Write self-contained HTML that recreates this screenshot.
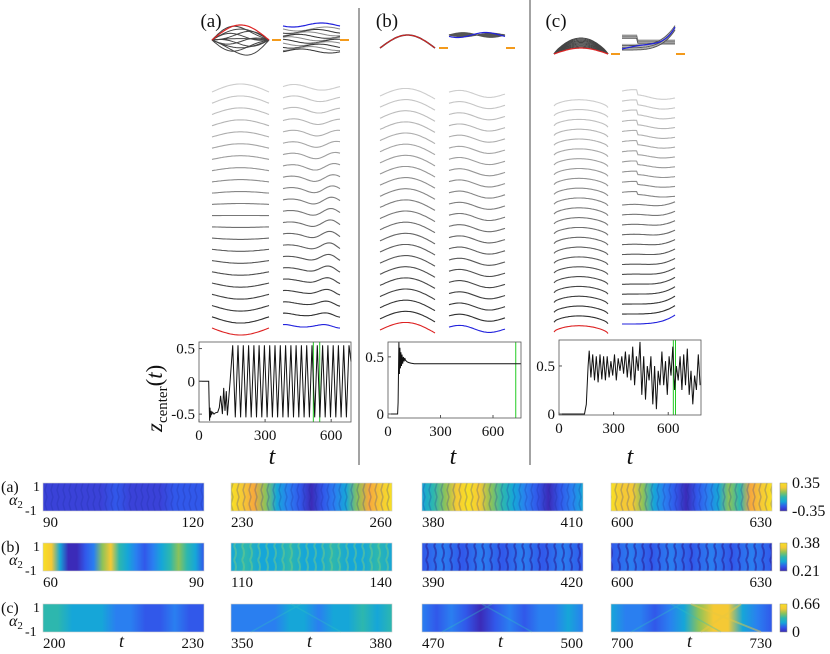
<!DOCTYPE html>
<html><head><meta charset="utf-8">
<style>
html,body{margin:0;padding:0;background:#fff;}
svg{display:block;font-family:"Liberation Serif",serif;}
</style></head>
<body>
<svg id="fig" width="830" height="654" viewBox="0 0 830 654" xmlns="http://www.w3.org/2000/svg">
<defs>
<pattern id="stripeA" width="6" height="28" patternUnits="userSpaceOnUse">
<path d="M3 0 L5 7 L3 14 L5 21 L3 28" stroke="#1a2a9a" stroke-opacity="0.25" stroke-width="1.5" fill="none"/>
</pattern>
<pattern id="stripeB" width="8" height="14" patternUnits="userSpaceOnUse">
<path d="M2 0 Q6 7 2 14" stroke="#2a1f9a" stroke-opacity="0.6" stroke-width="2" fill="none"/>
</pattern>
<pattern id="stripeBg" width="8" height="14" patternUnits="userSpaceOnUse">
<path d="M2 0 Q6 7 2 14" stroke="#7fd07a" stroke-opacity="0.45" stroke-width="2" fill="none"/>
</pattern>
</defs>
<g id="root"></g>
</svg>
<script>
// ---------- z_center time series data ----------
const tA=[0,44,46,48,50,52,55,58,62,68,75,85,92,98,102,106,112,118,124,129,141,153,165,177,189,201,213,225,237,249,261,273,285,297,309,321,333,345,357,369,381,393,405,417,429,441,453,465,477,489,501,513,525,537,549,561,573,585,597,609,621,633,645,657,669,681,690];
const zA=[0,0,-0.3,-0.6,-0.4,-0.55,-0.45,-0.5,-0.47,-0.5,-0.48,-0.47,-0.4,-0.22,-0.35,-0.5,-0.1,-0.45,-0.15,-0.52,0,0.55,-0.55,0.55,-0.55,0.55,-0.55,0.55,-0.55,0.55,-0.55,0.55,-0.55,0.55,-0.55,0.55,-0.55,0.55,-0.55,0.55,-0.55,0.55,-0.55,0.55,-0.55,0.55,-0.55,0.55,-0.55,0.55,-0.55,0.55,-0.55,0.55,-0.55,0.55,-0.55,0.55,-0.55,0.55,-0.55,0.55,-0.55,0.55,-0.55,0.55,0.3];
const tB=[0,55,58,62,65,68,71,74,77,80,84,88,92,96,100,110,120,130,150,760];
const zB=[0,0,0.1,0.63,0.35,0.58,0.4,0.54,0.42,0.52,0.44,0.5,0.46,0.49,0.47,0.455,0.45,0.445,0.44,0.44];
const tC=[0,140,150,160,166,175,185,195,205,215,225,235,245,255,265,275,285,295,305,315,325,335,345,355,365,375,385,395,405,415,425,435,445,455,465,475,485,495,505,515,525,535,545,555,565,575,585,595,605,615,625,635,645,655,665,675,685,695,705,715,725,735,745,755,765,775];
const zC=[0,0,0.1,0.5,0.66,0.38,0.62,0.35,0.6,0.33,0.62,0.36,0.6,0.35,0.6,0.38,0.55,0.4,0.62,0.35,0.58,0.45,0.6,0.42,0.65,0.38,0.62,0.35,0.7,0.3,0.6,0.45,0.75,0.2,0.6,0.15,0.5,0.35,0.6,0.1,0.5,0.05,0.45,0.3,0.65,0.3,0.55,0.2,0.6,0.4,0.7,0.25,0.5,0.35,0.6,0.25,0.62,0.3,0.68,0.2,0.45,0.1,0.4,0.25,0.62,0.3];
// axis tick labels
const ytA=[0.5,0,-0.5], ytAlab=["0.5","0","-0.5"];
const ytB=[0.5,0], ytBlab=["0.5","0"];
const ytC=[0.5,0], ytClab=["0.5","0"];
const xt=[0,300,600], xtlab=["0","300","600"];
const greenA=[519,548], greenB=[730], greenC=[628,640];
// heatmap tick labels
const hmStart=[[90,230,380,600],[60,110,390,600],[200,350,470,700]];
const hmSpan=30;
const cbLabels=[["0.35","-0.35"],["0.38","0.21"],["0.66","0"]];

const NS="http://www.w3.org/2000/svg";
const root=document.getElementById('root');
function el(tag,attrs,parent){const e=document.createElementNS(NS,tag);for(const k in attrs)e.setAttribute(k,attrs[k]);(parent||root).appendChild(e);return e;}
function txt(x,y,s,size,anchor,parent,italic){const e=el('text',{x:x,y:y,'font-size':size,'text-anchor':anchor||'middle',fill:'#111'},parent);if(italic)e.setAttribute('font-style','italic');e.textContent=s;return e;}

// dividers
let d1=el('line',{x1:359,y1:8,x2:359,y2:465,stroke:'#666','stroke-width':1.2});

let d2=el('line',{x1:530,y1:0,x2:530,y2:465,stroke:'#666','stroke-width':1.2});


// panel labels
let pl=txt(211,27,'(a)',19);
pl=txt(387,27,'(b)',19);
pl=txt(556,27,'(c)',19);

// ---------- profile stacks ----------
function gray(i,n){const v=Math.round(205-(i/(n-1))*165);return `rgb(${v},${v},${v})`;}
function drawStack(name,x0,x1,yTop,yBot,n,shapeFn,lastColor){
  const g=el('g',{});
  
  for(let i=0;i<n;i++){
    const base=yTop+(yBot-yTop)*i/(n-1);
    let d='';
    for(let k=0;k<=40;k++){const s=k/40;const y=base+shapeFn(s,i/(n-1));d+=(k?'L':'M')+(x0+(x1-x0)*s).toFixed(1)+' '+y.toFixed(1);}
    const p=el('path',{d:d,fill:'none',stroke:i==n-1?lastColor:gray(i,n),'stroke-width':1.1},g);
    
    
  }
}
const S=Math.sin,P=Math.PI;
drawStack('stack-a-left',212,269,92,328,22,(s,f)=>-(8-15*f)*S(P*s),'#d22');
drawStack('stack-a-right',283,340,88,326,22,(s,f)=>-3*S(2*P*s*(1+0.8*f)+0.5)-2*(1-f)*S(P*s)*0.5+2*f*Math.sin(P*s*4),'#22d');
drawStack('stack-b-left',380,435,96,330,22,(s,f)=>-9*S(P*s)+3*s,'#d22');
drawStack('stack-b-right',449,505,93,328,22,(s,f)=>-3*S(2*P*s+0.3)+2*s,'#22d');
drawStack('stack-c-left',554,608,106,332,24,(s,f)=>-7*Math.pow(S(P*s),0.6)+1.5*s,'#d22');
drawStack('stack-c-right',622,675,96,324,24,(s,f)=>{
  let y=-3*S(2*P*s)*(1-f)*0.6+2*(1-f)*s;
  if(f<0.45){y+= s<0.28?-5*(1-f):0;}
  else {y-= 9*Math.pow(s,4)*f;}
  return y;},'#22d');

// top overlays
function overlay(name,x0,x1,yc,items,dashX){
  const g=el('g',{});
  items.forEach(it=>{let d='';for(let k=0;k<=40;k++){const s=k/40;d+=(k?'L':'M')+(x0+(x1-x0)*s).toFixed(1)+' '+(yc+it.f(s)).toFixed(1);}
    el('path',{d:d,fill:'none',stroke:it.c,'stroke-width':it.w||1},g);});
  const o=el('line',{x1:dashX,y1:yc+items.dy,x2:dashX+9,y2:yc+items.dy,stroke:'#f39a1c','stroke-width':2},g);
  
}
function mk(arr,dy){arr.dy=dy;return arr;}
let ia=[];for(let i=0;i<10;i++){const a=-14+28*i/9;ia.push({c:'#444',f:s=>a*S(P*s)*(i%2?1:0.9)+3*S(2*P*s)*(i%3-1)});}
ia.push({c:'#d22',w:1.2,f:s=>-15*S(P*s)});
overlay('overlay-a-left',212,269,40,mk(ia,0),272);
let ib=[];for(let i=0;i<10;i++){const o=-11+22*i/9;ib.push({c:i%2?'#333':'#888',f:s=>o+2*S(2*P*s+i)});}
ib.push({c:'#22d',w:1.2,f:s=>-15+2*S(2*P*s+0.5)});
overlay('overlay-a-right',283,340,40,mk(ib,0),340);
overlay('overlay-b-left',380,435,48,mk([{c:'#333',w:1.5,f:s=>-13*S(P*s)},{c:'#d22',w:1,f:s=>-13*S(P*s)}],0),439);
let ib2=[];for(let i=0;i<8;i++){ib2.push({c:'#555',f:s=>-13+(i-4)*0.6*S(2*P*s)});}
ib2.push({c:'#22d',w:1.2,f:s=>-13+2.5*S(2*P*s+0.6)});
overlay('overlay-b-right',449,505,48,mk(ib2,0),506);
let ic=[];for(let i=0;i<10;i++){const a=6+10*i/9;ic.push({c:'#444',f:s=>-a*Math.pow(S(P*s),0.8)});}
ic.push({c:'#d22',w:1.2,f:s=>-6*S(P*s)});
overlay('overlay-c-left',554,608,54,mk(ic,0),611);
let ic2=[];for(let i=0;i<10;i++){const o=-14+10*i/9;ic2.push({c:i%2?'#555':'#aaa',f:s=>o-(i>4?20*Math.pow(s,4):0)+(i<4&&s<0.3?-5:0)});}
ic2.push({c:'#22d',w:1.2,f:s=>-5-4*S(P*s)-22*Math.pow(s,5)});
overlay('overlay-c-right',622,675,54,mk(ic2,0),676);

// ---------- z_center axes ----------
function zPlot(name,ax,ay,aw,ah,xmax,ymin,ymax,T,Z,yt,ytl,greens){
  const g=el('g',{});
  const sx=t=>ax+aw*t/xmax, sy=z=>ay+ah*(ymax-z)/(ymax-ymin);
  greens.forEach(t=>{const l=el('line',{x1:sx(t),y1:ay,x2:sx(t),y2:ay+ah,stroke:'#2c2','stroke-width':1},g);});
  let d='';T.forEach((t,i)=>{d+=(i?'L':'M')+sx(t).toFixed(1)+' '+sy(Z[i]).toFixed(1);});
  const p=el('path',{d:d,fill:'none',stroke:'#111','stroke-width':1},g);
  
  const f=el('rect',{x:ax,y:ay,width:aw,height:ah,fill:'none',stroke:'#555','stroke-width':0.8},g);
  
  yt.forEach((v,i)=>{el('line',{x1:ax,y1:sy(v),x2:ax+3,y2:sy(v),stroke:'#555'},g);
    const tl=txt(ax-4,sy(v)+5,ytl[i],15,'end',g);});
  xt.forEach((v,i)=>{el('line',{x1:sx(v),y1:ay+ah,x2:sx(v),y2:ay+ah-3,stroke:'#555'},g);
    const tl=txt(sx(v),ay+ah+18,xtlab[i],15,'middle',g);});
  return sx;
}
zPlot('zcenter-plot-a',199,342,152,80,690,-0.62,0.6,tA,zA,ytA,ytAlab,greenA);
zPlot('zcenter-plot-b',388,342,133,76,760,-0.035,0.63,tB,zB,ytB,ytBlab,greenB);
zPlot('zcenter-plot-c',559,340,142,75,780,-0.01,0.77,tC,zC,ytC,ytClab,greenC);
let xl=txt(272,464,'t',24,'middle',null,true);
xl=txt(453,464,'t',24,'middle',null,true);
xl=txt(630,464,'t',24,'middle',null,true);
let yl=el('text',{x:0,y:0,'font-size':23,transform:'translate(162,432) rotate(-90)',fill:'#111'});
yl.innerHTML='<tspan font-style="italic">z</tspan><tspan font-size="15" dy="5">center</tspan><tspan dy="-5">(</tspan><tspan font-style="italic">t</tspan><tspan>)</tspan>';


// ---------- heatmaps ----------
const C={D:'#3b2bb8',B:'#3158ea',b:'#2a7ff0',c:'#16a6d8',t:'#2db7ae',g:'#8cc25a',y:'#f5c935',Y:'#f8e024',o:'#f7a83c',I:'#3a42d8'};
const hmStops=[
 ['IIIIIBIIIBBB','YyogcbBDBbcgoyY','ctgyYygtcbBDBbc','YyygcbBDBbcgtoyY'],
 ['YycDDBbgytcbBbctgtcB','ctcctcctcctc','BbBbBbBbB','BbBbBbBbB'],
 ['ttcccbbBBbBB','bbbbccbcctct','bBbBDBbBbbcb','cbbBbcgyycbB']
];
const colX=[43,231,422,611], rowY=[483,543,604], cw=161, ch=28;
const hmG=el('g',{});
for(let r=0;r<3;r++){
  for(let c=0;c<4;c++){
    const id='hg'+r+'_'+c;
    const lg=el('linearGradient',{id:id,x1:0,y1:0,x2:1,y2:0},document.querySelector('defs'));
    const st=hmStops[r][c];for(let k=0;k<st.length;k++){el('stop',{offset:k/(st.length-1),'stop-color':C[st[k]]},lg);}
    const rc=el('rect',{x:colX[c],y:rowY[r],width:cw,height:ch,fill:`url(#${id})`},hmG);
    
    if(r==0||(r==1&&c>0)){el('rect',{x:colX[c],y:rowY[r],width:cw,height:ch,fill:r==0?'url(#stripeA)':(c==1?'url(#stripeBg)':'url(#stripeB)')},hmG);}
    if(r==2&&c==3){el('path',{d:`M${colX[c]+90} ${rowY[r]+28} L${colX[c]+130} ${rowY[r]} M${colX[c]+80} ${rowY[r]} L${colX[c]+150} ${rowY[r]+28}`,stroke:'#e8c840','stroke-width':2,'stroke-opacity':0.5,fill:'none'},hmG);}
    if(r==2&&c>=1){el('path',{d:`M${colX[c]+20} ${rowY[r]+28} L${colX[c]+70} ${rowY[r]} M${colX[c]+60} ${rowY[r]} L${colX[c]+110} ${rowY[r]+28}`,stroke:'#30c0c0','stroke-width':1.5,'stroke-opacity':0.35,fill:'none'},hmG);}
    el('rect',{x:colX[c],y:rowY[r],width:cw,height:ch,fill:'none',stroke:'#ccc','stroke-width':0.6},hmG);
    const a=txt(colX[c],rowY[r]+ch+16,String(hmStart[r][c]),15,'start',hmG);
    const b=txt(colX[c]+cw,rowY[r]+ch+16,String(hmStart[r][c]+hmSpan),15,'end',hmG);
    if(r==2){const t=txt(colX[c]+cw/2-2,rowY[r]+ch+15,'t',18,'middle',hmG,true);}
  }
  const lab=txt(1,rowY[r]+9,'('+'abc'[r]+')',16,'start',hmG);
  txt(33,rowY[r]+8,'1',14,'start',hmG);
  const al=el('text',{x:9,y:rowY[r]+22,'font-size':16,fill:'#111'},hmG);al.innerHTML='<tspan font-style="italic">α</tspan><tspan font-size="11" dy="3">2</tspan>';
  
  txt(25,rowY[r]+32,'-1',14,'start',hmG);
  // colorbar
  const cg=el('linearGradient',{id:'cb'+r,x1:0,y1:1,x2:0,y2:0},document.querySelector('defs'));
  ['D','B','c','t','g','y','Y'].forEach((k,i)=>el('stop',{offset:i/6,'stop-color':C[k]},cg));
  const cb=el('rect',{x:780,y:rowY[r],width:7,height:ch,fill:`url(#cb${r})`,stroke:'#888','stroke-width':0.5},hmG);
  
  txt(792,rowY[r]+5,cbLabels[r][0],16,'start',hmG);
  txt(792,rowY[r]+ch+5,cbLabels[r][1],16,'start',hmG);
}
</script>
</body></html>
